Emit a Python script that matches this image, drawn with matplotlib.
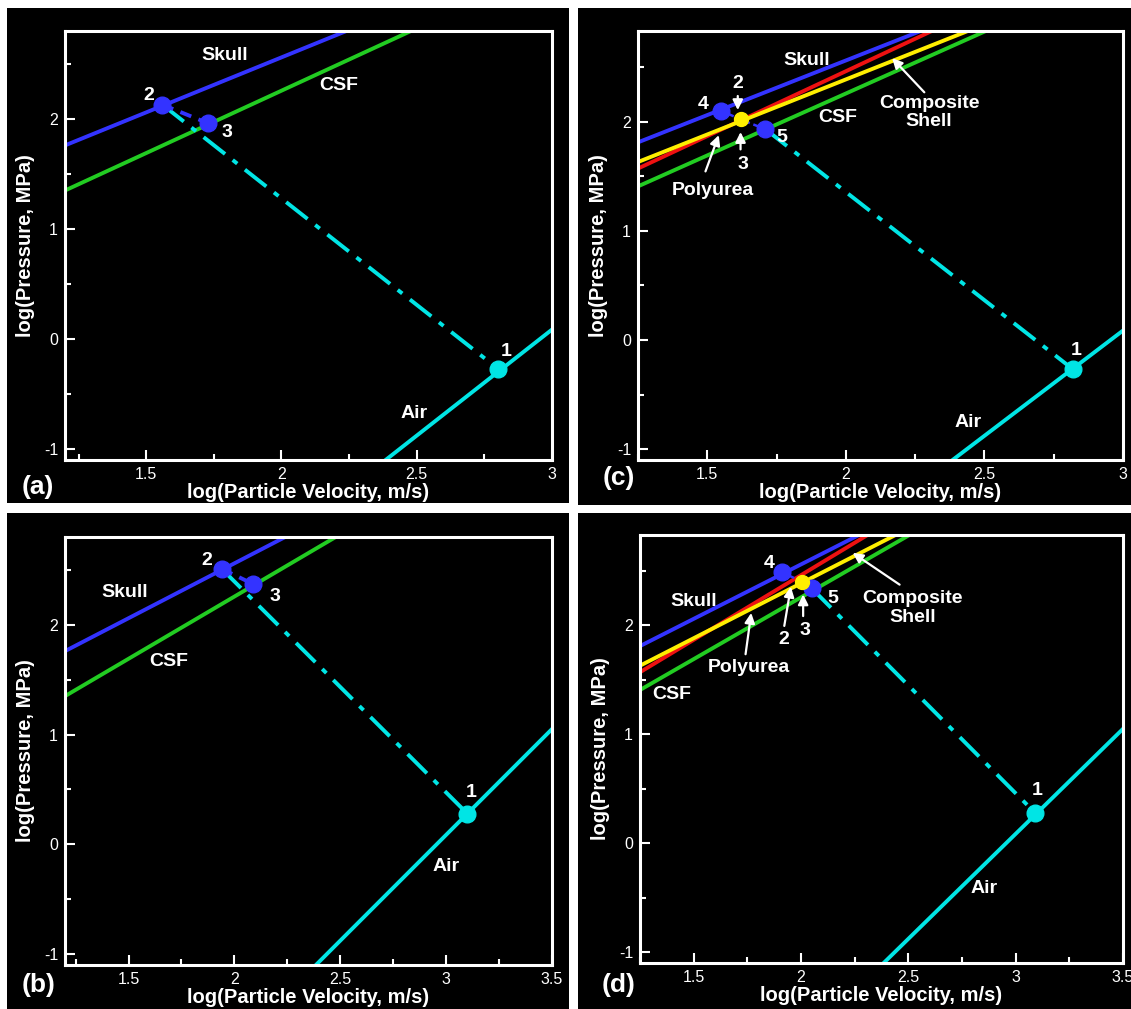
import matplotlib
matplotlib.use("Agg")
import matplotlib.pyplot as plt
from matplotlib.ticker import MultipleLocator

plt.rcParams["font.family"] = ["Liberation Sans", "DejaVu Sans"]
plt.rcParams["axes.unicode_minus"] = False

W, H = 1131, 1009

# Hugoniot lines (log particle velocity, log pressure)
skull_u = [1.20, 2.27]
skull_p = [1.76, 2.83]
csf_u = [1.20, 2.505]
csf_p = [1.35, 2.83]
shell_u = [1.25, 2.31]
shell_p = [1.57, 2.83]
polyurea_u = [1.25, 2.44]
polyurea_p = [1.63, 2.83]
air_u = [2.385, 3.50]
air_p = [-1.10, 1.05]

# state points per panel
a_pts_u = [2.80, 1.56, 1.73]
a_pts_p = [-0.27, 2.13, 1.96]
b_pts_u = [3.10, 1.94, 2.09]
b_pts_p = [0.28, 2.51, 2.37]
c_pts_u = [2.82, 1.55, 1.62, 1.71]   # 1, 4, 2/3, 5
c_pts_p = [-0.27, 2.10, 2.02, 1.93]
d_pts_u = [3.09, 1.91, 2.005, 2.05]
d_pts_p = [0.28, 2.49, 2.40, 2.34]

BLUE = "#3333ff"
GREEN = "#22cc22"
RED = "#ee1111"
YELLOW = "#ffee00"
CYAN = "#00e5e5"
DASHDOT = (0, (7, 2.5, 1.5, 2.5))


def frac(x0, y0, x1, y1):
    return [x0 / W, 1 - y1 / H, (x1 - x0) / W, (y1 - y0) / H]


fig = plt.figure(figsize=(W / 100, H / 100), dpi=100)
fig.patch.set_facecolor("white")

backs = {"a": (7, 8, 569, 503), "c": (578, 8, 1131, 505),
         "b": (7, 513, 569, 1009), "d": (578, 513, 1131, 1009)}
frames = {"a": (65, 31, 552, 460), "c": (638, 31, 1123, 460),
          "b": (65, 537, 552, 965), "d": (640, 535, 1123, 963)}
xlims = {"a": (1.2, 3.0), "c": (1.25, 3.0), "b": (1.2, 3.5), "d": (1.25, 3.5)}
ylims = {"a": (-1.1, 2.8), "c": (-1.1, 2.83), "b": (-1.1, 2.8), "d": (-1.1, 2.83)}
tags = {"a": (22, 487), "c": (603, 478), "b": (22, 985), "d": (602, 985)}

axes = {}
for k in "acbd":
    bg = fig.add_axes(frac(*backs[k]))
    bg.set_facecolor("black")
    bg.set_xticks([])
    bg.set_yticks([])
    for s in bg.spines.values():
        s.set_visible(False)
    bg.set_zorder(0)

    ax = fig.add_axes(frac(*frames[k]))
    ax.set_zorder(1)
    ax.set_facecolor("black")
    ax.set_xlim(*xlims[k])
    ax.set_ylim(*ylims[k])
    for s in ax.spines.values():
        s.set_color("white")
        s.set_linewidth(2.2)
    ax.xaxis.set_major_locator(MultipleLocator(0.5))
    ax.xaxis.set_minor_locator(MultipleLocator(0.25))
    ax.yaxis.set_major_locator(MultipleLocator(1))
    ax.yaxis.set_minor_locator(MultipleLocator(0.5))
    ax.xaxis.set_major_formatter(plt.FuncFormatter(lambda v, p: f"{v:g}"))
    ax.yaxis.set_major_formatter(plt.FuncFormatter(lambda v, p: f"{v:g}"))
    ax.tick_params(which="both", direction="in", colors="white",
                   labelsize=11.5, width=1.5, pad=5)
    ax.tick_params(which="major", length=7)
    ax.tick_params(which="minor", length=4)
    ax.set_xlabel("log(Particle Velocity, m/s)", color="white",
                  fontsize=14.5, fontweight="bold", labelpad=1)
    ax.set_ylabel("log(Pressure, MPa)", color="white",
                  fontsize=14.5, fontweight="bold", labelpad=6)
    fig.text(tags[k][0] / W, 1 - tags[k][1] / H, f"({k})", color="white",
             fontsize=19, fontweight="bold", ha="left", va="center")
    axes[k] = ax

lw = 2.8
txt = dict(color="white", fontsize=14, fontweight="bold", ha="center", va="center")
arr = dict(arrowstyle="-|>,head_length=0.6,head_width=0.3", color="white", lw=1.6)

# ---- (a) and (b): skull / CSF only
for k, pu, pp in [("a", a_pts_u, a_pts_p), ("b", b_pts_u, b_pts_p)]:
    ax = axes[k]
    ax.plot(skull_u, skull_p, color=BLUE, lw=lw)
    ax.plot(csf_u, csf_p, color=GREEN, lw=lw)
    ax.plot(air_u, air_p, color=CYAN, lw=lw)
    ax.plot([pu[1], pu[0]], [pp[1], pp[0]], color=CYAN, lw=lw, ls=DASHDOT)
    ax.plot([pu[1], pu[2]], [pp[1], pp[2]], color=BLUE, lw=lw, ls=(0, (3, 2)))
    ax.plot(pu[0], pp[0], "o", color=CYAN, ms=12)
    ax.plot(pu[1:], pp[1:], "o", color=BLUE, ms=12, ls="none")

ax = axes["a"]
ax.text(1.79, 2.58, "Skull", **txt)
ax.text(2.21, 2.30, "CSF", **txt)
ax.text(2.49, -0.68, "Air", **txt)
ax.text(2.83, -0.11, "1", **txt)
ax.text(1.51, 2.21, "2", **txt)
ax.text(1.80, 1.88, "3", **txt)

ax = axes["b"]
ax.text(1.48, 2.29, "Skull", **txt)
ax.text(1.69, 1.67, "CSF", **txt)
ax.text(3.00, -0.20, "Air", **txt)
ax.text(3.12, 0.47, "1", **txt)
ax.text(1.87, 2.59, "2", **txt)
ax.text(2.19, 2.26, "3", **txt)

# ---- (c) and (d): with composite shell and polyurea
for k, pu, pp in [("c", c_pts_u, c_pts_p), ("d", d_pts_u, d_pts_p)]:
    ax = axes[k]
    ax.plot(skull_u, skull_p, color=BLUE, lw=lw)
    ax.plot(shell_u, shell_p, color=RED, lw=lw)
    ax.plot(polyurea_u, polyurea_p, color=YELLOW, lw=lw)
    ax.plot(csf_u, csf_p, color=GREEN, lw=lw)
    ax.plot(air_u, air_p, color=CYAN, lw=lw)
    ax.plot([pu[3], pu[0]], [pp[3], pp[0]], color=CYAN, lw=lw, ls=DASHDOT)
    ax.plot(pu[1:], pp[1:], color=BLUE, lw=1.8, ls=(0, (2, 1.5)))
    ax.plot(pu[0], pp[0], "o", color=CYAN, ms=12)
    ax.plot([pu[1], pu[3]], [pp[1], pp[3]], "o", color=BLUE, ms=12, ls="none")
    ax.plot(pu[2], pp[2], "o", color=YELLOW, ms=10)

ax = axes["c"]
ax.text(1.86, 2.56, "Skull", **txt)
ax.text(1.97, 2.04, "CSF", **txt)
ax.text(2.30, 2.085, "Composite\nShell", linespacing=1.1, **txt)
ax.text(1.52, 1.37, "Polyurea", **txt)
ax.text(2.44, -0.76, "Air", **txt)
ax.text(2.83, -0.10, "1", **txt)
ax.text(1.487, 2.16, "4", **txt)
ax.text(1.61, 2.345, "2", **txt)
ax.text(1.63, 1.61, "3", **txt)
ax.text(1.77, 1.856, "5", **txt)
ax.annotate("", xy=(2.16, 2.60), xytext=(2.29, 2.25), arrowprops=arr)
ax.annotate("", xy=(1.545, 1.90), xytext=(1.49, 1.52), arrowprops=arr)
ax.annotate("", xy=(1.61, 2.08), xytext=(1.61, 2.26), arrowprops=arr)
ax.annotate("", xy=(1.62, 1.93), xytext=(1.62, 1.72), arrowprops=arr)

ax = axes["d"]
ax.text(1.50, 2.22, "Skull", **txt)
ax.text(1.40, 1.37, "CSF", **txt)
ax.text(2.52, 2.16, "Composite\nShell", linespacing=1.1, **txt)
ax.text(1.757, 1.61, "Polyurea", **txt)
ax.text(2.855, -0.42, "Air", **txt)
ax.text(3.10, 0.48, "1", **txt)
ax.text(1.85, 2.565, "4", **txt)
ax.text(1.92, 1.87, "2", **txt)
ax.text(2.02, 1.95, "3", **txt)
ax.text(2.15, 2.25, "5", **txt)
ax.annotate("", xy=(2.23, 2.68), xytext=(2.47, 2.36), arrowprops=arr)
ax.annotate("", xy=(1.77, 2.14), xytext=(1.74, 1.71), arrowprops=arr)
ax.annotate("", xy=(1.955, 2.38), xytext=(1.92, 1.97), arrowprops=arr)
ax.annotate("", xy=(2.01, 2.31), xytext=(2.01, 2.06), arrowprops=arr)

fig.savefig("out.png", dpi=100, facecolor="white")
